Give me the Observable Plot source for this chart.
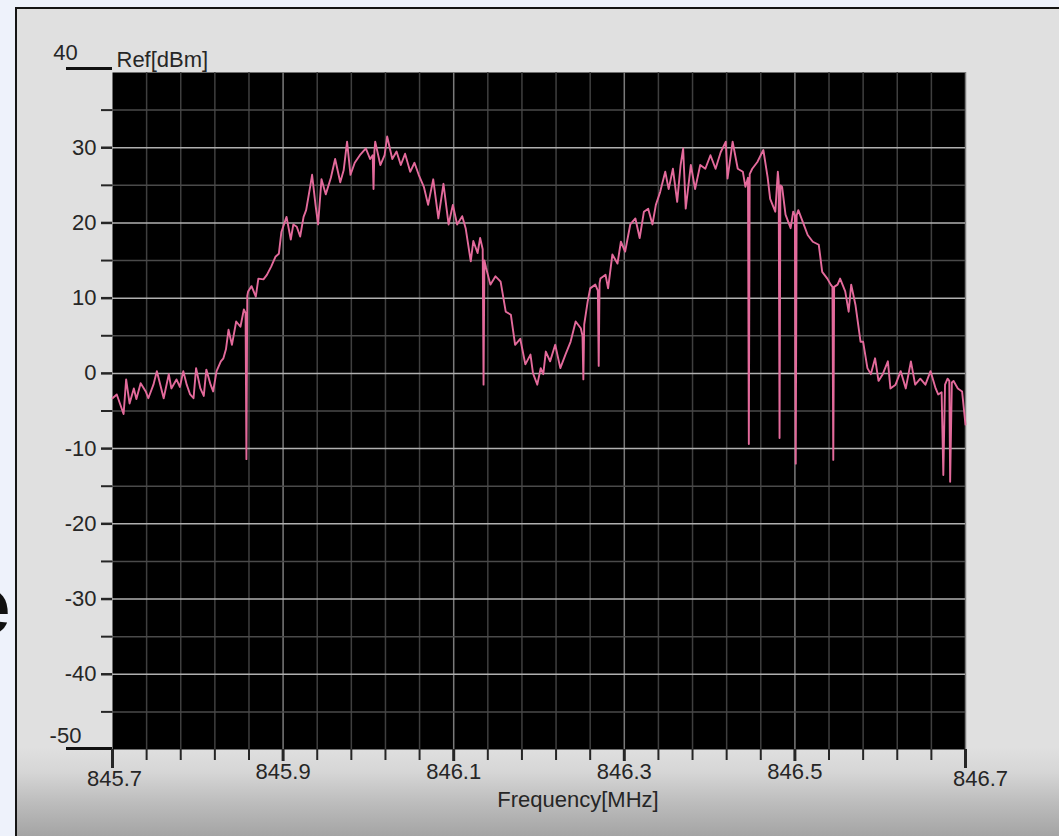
<!DOCTYPE html>
<html>
<head>
<meta charset="utf-8">
<script src="https://cdn.jsdelivr.net/npm/d3@7"></script>
<script src="https://cdn.jsdelivr.net/npm/@observablehq/plot@0.6"></script>
<style>
  html, body { margin: 0; padding: 0; }
  body { width: 1059px; height: 836px; overflow: hidden; background: #eef2fb; position: relative; font-family: "Liberation Sans", Arial, sans-serif; }
  #behind { position: absolute; left: -34px; top: 560px; font: bold 80px "Liberation Sans", Arial, sans-serif; color: #111; }
  #win { position: absolute; left: 15px; top: 7px; width: 1060px; height: 840px; border-left: 2px solid #151515; border-top: 2px solid #151515; background: #e0e0e0; overflow: hidden; }
  #band { position: absolute; left: 0; top: 738px; width: 100%; height: 100px; background: linear-gradient(to bottom, #e0e0e0 0%, #d6d6d6 25%, #bdbdbd 55%, #9c9c9c 100%); }
  #chart { position: absolute; left: 0; top: 0; }
</style>
</head>
<body>
<div id="behind">e</div>
<div id="win"><div id="band"></div></div>
<div id="chart"></div>
<script>
// Frequency in MHz
const freqs = [
845.700,845.705,845.709,845.713,845.716,845.720,845.725,845.728,845.733,845.739,
845.742,845.748,845.752,845.756,845.760,845.766,845.769,845.775,845.779,845.783,
845.787,845.791,845.795,845.798,845.803,845.807,845.810,845.815,845.818,845.822,
845.827,845.830,845.833,845.836,845.840,845.845,845.850,845.854,845.856,845.857,
845.858,845.859,845.863,845.868,845.871,845.877,845.881,845.886,845.891,845.895,
845.898,845.904,845.909,845.912,845.916,845.920,845.924,845.927,845.932,845.934,
845.938,845.941,845.945,845.950,845.956,845.961,845.967,845.971,845.975,845.979,
845.984,845.990,845.997,846.002,846.005,846.006,846.007,846.008,846.014,846.019,
846.022,846.028,846.033,846.038,846.043,846.049,846.054,846.059,846.065,846.070,
846.076,846.082,846.088,846.094,846.099,846.104,846.110,846.114,846.120,846.123,
846.128,846.131,846.134,846.135,846.136,846.138,846.143,846.149,846.155,846.161,
846.167,846.172,846.178,846.184,846.190,846.193,846.198,846.202,846.205,846.208,
846.213,846.219,846.225,846.231,846.237,846.243,846.249,846.251,846.252,846.253,
846.257,846.260,846.266,846.269,846.270,846.271,846.272,846.278,846.281,846.286,
846.292,846.296,846.301,846.307,846.313,846.318,846.323,846.328,846.333,846.337,
846.342,846.348,846.352,846.357,846.362,846.366,846.369,846.372,846.378,846.383,
846.389,846.395,846.401,846.407,846.413,846.419,846.421,846.427,846.433,846.439,
846.442,846.445,846.446,846.447,846.450,846.456,846.463,846.468,846.471,846.477,
846.480,846.481,846.482,846.483,846.485,846.489,846.495,846.498,846.500,846.501,
846.502,846.504,846.509,846.515,846.521,846.528,846.532,846.538,846.542,846.544,
846.545,846.546,846.550,846.553,846.559,846.563,846.566,846.571,846.577,846.580,
846.585,846.589,846.594,846.598,846.603,846.609,846.612,846.618,846.624,846.630,
846.636,846.641,846.647,846.653,846.659,846.665,846.668,846.672,846.674,846.676,
846.679,846.681,846.682,846.684,846.686,846.691,846.696,846.700
];
// Level in dBm
const levels = [
-3.3,-2.8,-4.1,-5.4,-0.8,-4.0,-2.0,-3.4,-1.3,-2.4,
-3.3,-1.5,0.3,-1.5,-3.3,-0.1,-2.0,-0.8,-1.8,0.3,
-1.5,-2.8,-3.3,0.7,-2.0,-3.0,0.5,-1.5,-2.4,0.3,
1.6,2.0,3.2,5.8,3.8,6.9,6.2,8.5,8.0,-11.4,
10.3,10.9,11.6,10.2,12.6,12.5,13.1,14.2,15.5,15.9,
18.8,20.8,17.8,19.8,19.5,18.2,20.8,21.7,25.0,26.4,
22.4,19.8,25.8,23.8,26.0,28.5,25.4,27.0,30.8,26.4,
28.0,29.0,29.9,28.5,29.0,24.5,29.5,30.8,27.7,29.0,
31.5,28.5,29.5,27.7,29.2,26.8,28.0,26.4,24.8,22.4,
25.8,20.6,25.2,19.8,22.4,19.8,20.9,19.3,14.9,17.6,
16.0,18.0,16.5,-1.5,15.0,14.0,11.8,12.9,12.2,8.2,
7.8,3.8,4.6,1.2,2.5,0.0,-1.5,0.7,-0.1,2.9,
1.6,3.8,0.7,2.5,4.2,6.9,6.0,5.0,-0.8,6.5,
9.5,11.3,11.8,11.0,1.0,12.0,12.6,13.1,11.3,15.8,
14.6,17.5,16.2,19.8,20.6,18.0,21.5,21.9,19.8,22.4,
24.1,26.8,24.5,27.2,22.8,27.7,29.9,21.9,27.7,24.5,
27.7,27.2,29.0,27.2,29.4,30.8,25.9,30.8,27.2,26.8,
24.8,26.0,-9.4,26.5,27.2,28.1,29.7,26.1,23.2,21.5,
26.8,25.5,-8.6,25.0,24.8,21.1,19.3,21.5,21.0,-12.0,
21.0,21.7,20.2,18.4,17.5,17.1,13.5,12.6,11.8,11.5,
-11.5,11.5,11.8,12.6,10.9,8.2,11.8,9.1,4.2,4.2,
0.7,-0.1,2.0,-1.0,-0.1,1.6,-2.0,-1.5,0.3,-2.0,
1.6,-1.5,-0.7,-1.5,0.3,-2.0,-2.8,-2.5,-13.5,-1.5,
-0.7,-1.0,-14.4,-1.2,-1.0,-2.0,-2.4,-6.8
];

const yMajorTicks = [-40, -30, -20, -10, 0, 10, 20, 30];
const yMinorTicks = [-45, -35, -25, -15, -5, 5, 15, 25, 35];
const yEndTicks = [40, -50];
const xLabelTicks = [845.9, 846.1, 846.3, 846.5];
const xEndTicks = [845.7, 846.7];
const xMinorTicks = d3.range(1, 25).filter(i => i % 5 !== 0).map(i => +(845.7 + i * 0.04).toFixed(2));
const xGridMajor = [845.9, 846.1, 846.3, 846.5, 846.7];

const data = freqs.map((f, i) => ({f, v: levels[i]}));
const noLabel = () => "";
const ink = "#262626";
const fs = 22;

const chart = Plot.plot({
  width: 1059,
  height: 836,
  marginLeft: 112,
  marginRight: 94,
  marginTop: 72,
  marginBottom: 87,
  x: {domain: [845.7, 846.7], axis: null, label: null},
  y: {domain: [-50, 40], axis: null, label: null},
  style: {background: "transparent", fontFamily: "'Liberation Sans', Arial, sans-serif", fontSize: fs + "px", color: ink, overflow: "visible"},
  marks: [
    Plot.frame({fill: "black", stroke: null}),
    Plot.ruleX(xMinorTicks, {stroke: "#3f3f3f", strokeWidth: 1.5}),
    Plot.ruleX(xGridMajor, {stroke: "#7a7a7a", strokeWidth: 1.5}),
    Plot.ruleY(yMinorTicks, {stroke: "#4a4a4a", strokeWidth: 1.5}),
    Plot.ruleY(yMajorTicks, {stroke: "#b0b0b0", strokeWidth: 1.5}),
    Plot.line(data, {x: "f", y: "v", stroke: "#e36a9b", strokeWidth: 1.9, strokeLinejoin: "round"}),
    // y axis
    Plot.axisY(yMinorTicks, {anchor: "left", label: null, tickSize: 11, tickFormat: noLabel, stroke: ink, strokeWidth: 2}),
    Plot.axisY(yMajorTicks, {anchor: "left", label: null, tickSize: 11, tickPadding: 5, tickFormat: d => String(d), stroke: ink, strokeWidth: 2.5, fill: ink, fontSize: fs}),
    Plot.axisY([40], {anchor: "left", label: null, tickSize: 46, tickFormat: noLabel, stroke: "#111", strokeWidth: 3, dy: -4}),
    Plot.axisY([-50], {anchor: "left", label: null, tickSize: 46, tickFormat: noLabel, stroke: "#111", strokeWidth: 3, dy: -1}),
    Plot.text([40], {y: d => d, frameAnchor: "left", dx: -47, dy: -20, text: d => String(d), textAnchor: "middle", fill: ink, fontSize: fs}),
    Plot.text([-50], {y: d => d, frameAnchor: "left", dx: -47, dy: -14, text: d => String(d), textAnchor: "middle", fill: ink, fontSize: fs}),
    Plot.text(["Ref[dBm]"], {frameAnchor: "top-left", dx: 4, dy: -21, textAnchor: "start", fill: ink, fontSize: fs}),
    // x axis
    Plot.axisX(xMinorTicks, {anchor: "bottom", label: null, tickSize: 11, tickFormat: noLabel, stroke: ink, strokeWidth: 2}),
    Plot.axisX(xLabelTicks, {anchor: "bottom", label: null, tickSize: 12, tickFormat: noLabel, stroke: ink, strokeWidth: 3}),
    Plot.axisX(xEndTicks, {anchor: "bottom", label: null, tickSize: 19, tickFormat: noLabel, stroke: ink, strokeWidth: 3}),
    Plot.text(xLabelTicks, {x: d => d, frameAnchor: "bottom", dy: 29, text: d => d.toFixed(1), textAnchor: "middle", fill: ink, fontSize: fs}),
    Plot.text([xEndTicks[0]], {x: d => d, frameAnchor: "bottom", dy: 36, dx: 2, text: d => d.toFixed(1), textAnchor: "middle", fill: ink, fontSize: fs}),
    Plot.text([xEndTicks[1]], {x: d => d, frameAnchor: "bottom", dy: 36, dx: 15, text: d => d.toFixed(1), textAnchor: "middle", fill: ink, fontSize: fs}),
    Plot.text(["Frequency[MHz]"], {frameAnchor: "bottom", dx: 39, dy: 57, textAnchor: "middle", fill: ink, fontSize: fs})
  ]
});
document.getElementById("chart").appendChild(chart);
</script>
</body>
</html>
